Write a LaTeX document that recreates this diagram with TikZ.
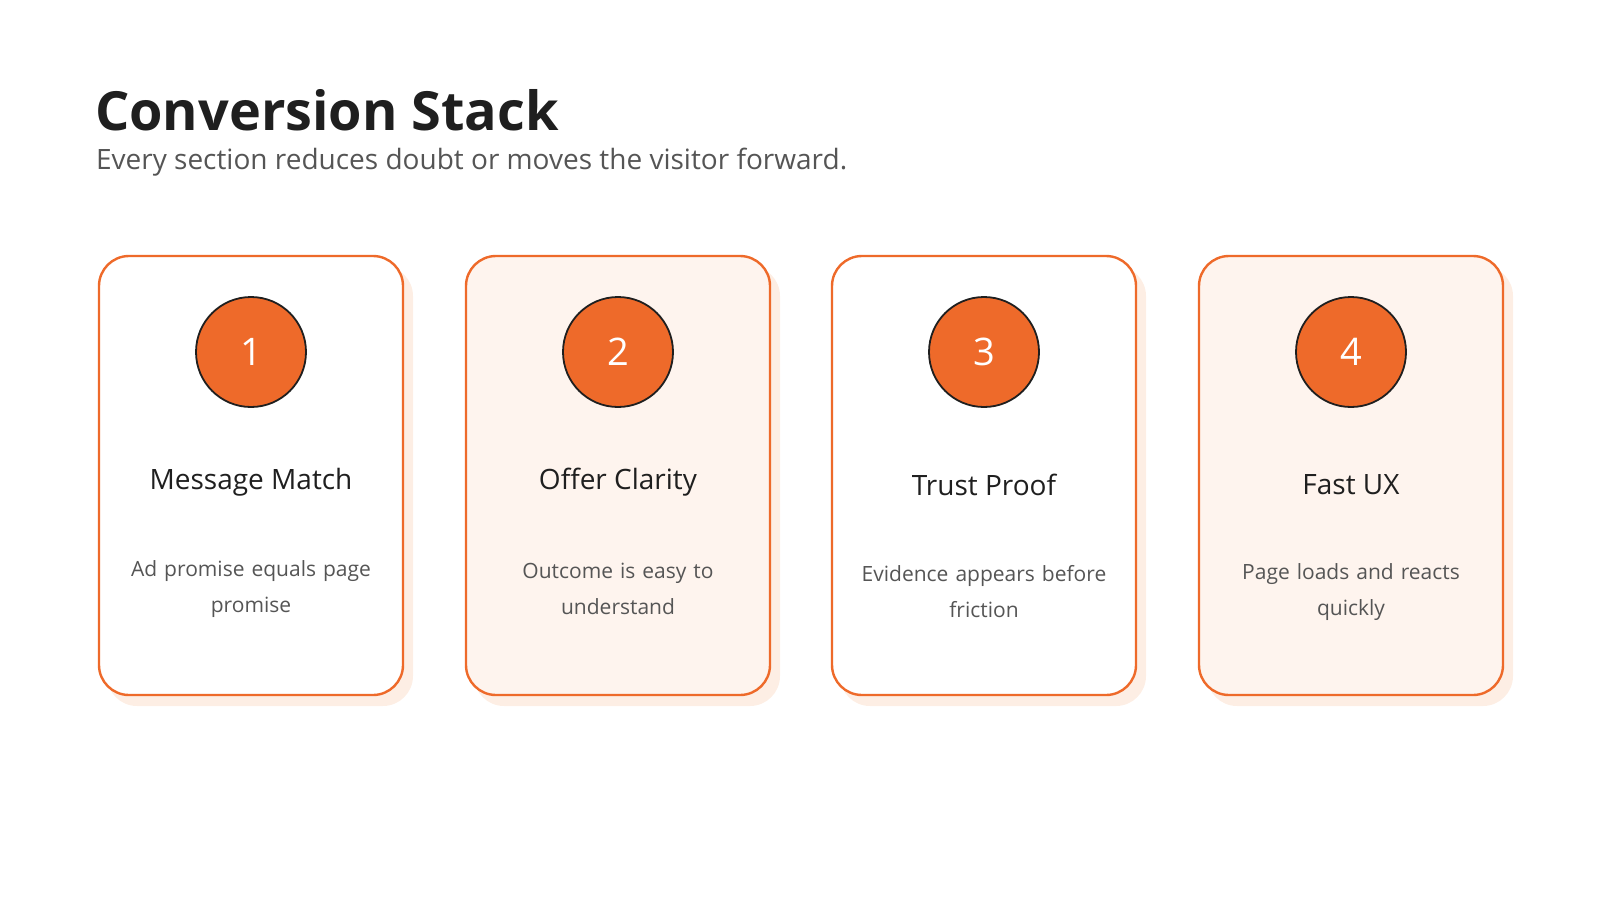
\documentclass[tikz,border=0pt]{standalone}
\usepackage{fontspec}
\setmainfont{Open Sans}
\definecolor{orng}{HTML}{EE6A2A}
\definecolor{peach}{HTML}{FEF4EE}
\definecolor{shad}{HTML}{FDEEE4}
\definecolor{txt}{HTML}{1F1F1F}
\definecolor{sub}{HTML}{555555}
\begin{document}
\begin{tikzpicture}[x=0.5pt,y=-0.5pt,
  card/.style={draw=orng,line width=1.2pt,rounded corners=15pt,minimum width=152pt,minimum height=219.5pt,inner sep=0pt},
  num/.style={circle,draw=txt,fill=orng,line width=0.9pt,minimum size=55pt,inner sep=0pt,text=white,font=\fontsize{19}{22}\selectfont},
  ttl/.style={font=\fontsize{14}{17}\selectfont,text=txt},
  body/.style={font=\fontsize{10.5}{18}\selectfont,text=sub,align=center,text width=130pt}]
\useasboundingbox (0,0) rectangle (1600,900);
\node[anchor=west,font=\fontsize{27}{32}\selectfont\bfseries,text=txt] (title) at (88,110) {Conversion Stack};
\node[anchor=west,font=\fontsize{14}{17}\selectfont,text=sub] (subt) at (89,162) {Every section reduces doubt or moves the visitor forward.};
\foreach \i/\cx/\f/\t/\b/\ty in {1/251/white/Message Match/{Ad promise equals page\\promise}/482,
  2/618/peach/Offer Clarity/{Outcome is easy to\\understand}/482,
  3/984/white/Trust Proof/{Evidence appears before\\friction}/485,
  4/1351/peach/Fast UX/{Page loads and reacts\\quickly}/485}{
  \fill[shad,rounded corners=15pt] (\cx-144,266) rectangle (\cx+162,706);
  \node[card,fill=\f] (c\i) at (\cx,475.5) {};
  \node[num] (n\i) at (\cx,352) {\i};
  \node[ttl] (t\i) at (\cx,\ty) {\t};
  \node[body] (b\i) at (\cx,\ty+107) {\b};
}
\end{tikzpicture}
\end{document}
